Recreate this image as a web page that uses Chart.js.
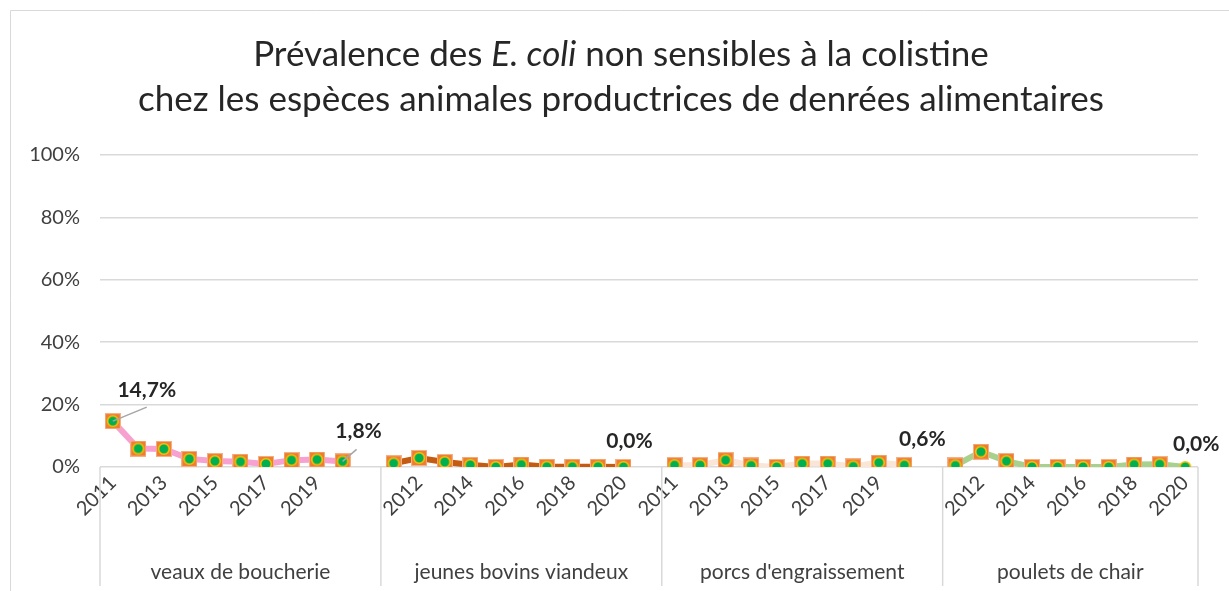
<!DOCTYPE html>
<html>
<head>
<meta charset="utf-8">
<script src="https://cdn.jsdelivr.net/npm/chart.js@4/dist/chart.umd.min.js"></script>
<style>
  html, body { margin: 0; padding: 0; background: #fff; }
  canvas { display: block; }
</style>
</head>
<body>
<canvas id="chart" width="1229" height="591"></canvas>
<script>
// ===== data =====
const years = ["2011", "2012", "2013", "2014", "2015", "2016", "2017", "2018", "2019", "2020"];
const groups = ["veaux de boucherie", "jeunes bovins viandeux", "porcs d'engraissement", "poulets de chair"];

const veaux   = [14.7, 5.9, 5.8, 2.6, 1.9, 1.7, 1.0, 2.2, 2.4, 1.8];
const bovins  = [1.2, 2.9, 1.6, 0.7, 0.0, 0.8, 0.1, 0.1, 0.1, 0.0];
const porcs   = [0.6, 0.6, 2.2, 0.5, 0.0, 1.1, 1.1, 0.2, 1.4, 0.6];
const poulets = [0.5, 4.9, 1.9, 0.0, 0.0, 0.0, 0.0, 0.8, 0.9, 0.0];

const yTicks = [0, 20, 40, 60, 80, 100];

// ===== styles =====
const lineColors = ["#F7A1D0", "#C55A11", "#FBE5D6", "#A9D18E"];
const FONT = "Lato, 'Open Sans', sans-serif";

// which points carry a value label (group index, point index, label offset, leader end)
const valueLabels = [
  { g: 0, i: 0, dx: 34, dy: -31, lead: [34, -14] },
  { g: 0, i: 9, dx: 16, dy: -30, lead: [14, -12] },
  { g: 1, i: 9, dx: 6, dy: -26, lead: null },
  { g: 2, i: 9, dx: 18, dy: -26, lead: null },
  { g: 3, i: 9, dx: 11, dy: -23, lead: null }
];

// ===== build category axis (one empty slot between groups) =====
const series = [veaux, bovins, porcs, poulets];
const labels = [];
const groupStart = [];
series.forEach((s, g) => {
  groupStart.push(labels.length);
  years.forEach(y => labels.push(y));
  if (g < series.length - 1) labels.push("");
});

// ===== markers =====
function makeMarker(withSquare) {
  const c = document.createElement("canvas");
  c.width = 16; c.height = 16;
  const x = c.getContext("2d");
  if (withSquare) {
    x.fillStyle = "#ED7D31";
    x.fillRect(0.5, 0.5, 15, 15);
    x.strokeStyle = "#F4B183";
    x.lineWidth = 1;
    x.strokeRect(0.5, 0.5, 15, 15);
  }
  x.beginPath();
  x.arc(8, 8, 5.3, 0, Math.PI * 2);
  x.fillStyle = "#00B050";
  x.fill();
  x.lineWidth = 1.6;
  x.strokeStyle = "#FFC000";
  x.stroke();
  return c;
}
const markerFull = makeMarker(true);
const markerDot = makeMarker(false);

const datasets = series.map((s, g) => {
  const data = labels.map(() => null);
  s.forEach((v, i) => { data[groupStart[g] + i] = v; });
  const styles = data.map((v, k) =>
    (g === 3 && k === groupStart[g] + s.length - 1) ? markerDot : markerFull);
  return {
    label: groups[g],
    data: data,
    borderColor: lineColors[g],
    borderWidth: 6,
    tension: 0,
    spanGaps: false,
    pointStyle: styles,
    pointRadius: 8,
    pointHoverRadius: 8
  };
});

function fmt(v) {
  return v.toFixed(1).replace(".", ",") + "%";
}

// ===== decorations: border, title, group labels, value labels =====
const decor = {
  id: "decor",
  beforeDraw(chart) {
    const ctx = chart.ctx;
    ctx.save();
    ctx.fillStyle = "#fff";
    ctx.fillRect(0, 0, chart.width, chart.height);
    ctx.strokeStyle = "#D9D9D9";
    ctx.lineWidth = 1;
    ctx.beginPath();
    ctx.moveTo(10.5, chart.height);
    ctx.lineTo(10.5, 10.5);
    ctx.lineTo(chart.width, 10.5);
    ctx.stroke();
    ctx.restore();
  },
  afterDraw(chart) {
    const ctx = chart.ctx;
    const xs = chart.scales.x;
    const ys = chart.scales.y;
    const area = chart.chartArea;
    const step = xs.getPixelForValue(1) - xs.getPixelForValue(0);
    ctx.save();

    // title
    const parts1 = [["Prévalence des ", ""], ["E. coli", "italic "], [" non sensibles à la colistine", ""]];
    const tSize = 35;
    let w = 0;
    parts1.forEach(p => { ctx.font = p[1] + tSize + "px " + FONT; w += ctx.measureText(p[0]).width; });
    const cx = 621;
    let x = cx - w / 2;
    ctx.fillStyle = "#262626";
    ctx.textBaseline = "alphabetic";
    ctx.textAlign = "left";
    parts1.forEach(p => {
      ctx.font = p[1] + tSize + "px " + FONT;
      ctx.fillText(p[0], x, 66);
      x += ctx.measureText(p[0]).width;
    });
    ctx.font = tSize + "px " + FONT;
    ctx.textAlign = "center";
    ctx.fillText("chez les espèces animales productrices de denrées alimentaires", cx, 111);

    // group separators and names
    ctx.strokeStyle = "#D9D9D9";
    ctx.lineWidth = 1.5;
    const bounds = groupStart.map(s => xs.getPixelForValue(s) - step / 2);
    bounds.push(area.right);
    bounds.forEach(b => {
      ctx.beginPath();
      ctx.moveTo(b, area.bottom);
      ctx.lineTo(b, chart.height - 5);
      ctx.stroke();
    });
    ctx.fillStyle = "#404040";
    ctx.font = "21px " + FONT;
    ctx.textAlign = "center";
    ctx.textBaseline = "middle";
    groups.forEach((name, g) => {
      ctx.fillText(name, (bounds[g] + bounds[g + 1]) / 2, 572);
    });

    // value labels
    ctx.font = "bold 21px " + FONT;
    ctx.fillStyle = "#262626";
    valueLabels.forEach(l => {
      const v = series[l.g][l.i];
      const px = xs.getPixelForValue(groupStart[l.g] + l.i);
      const py = ys.getPixelForValue(v);
      if (l.lead) {
        ctx.strokeStyle = "#A6A6A6";
        ctx.lineWidth = 1.5;
        ctx.beginPath();
        ctx.moveTo(px, py);
        ctx.lineTo(px + l.lead[0], py + l.lead[1]);
        ctx.stroke();
      }
      ctx.fillText(fmt(v), px + l.dx, py + l.dy);
    });
    ctx.restore();
  }
};

new Chart(document.getElementById("chart"), {
  type: "line",
  data: { labels: labels, datasets: datasets },
  plugins: [decor],
  options: {
    responsive: false,
    animation: false,
    events: [],
    layout: { padding: { top: 155, right: 31, left: 0, bottom: 0 } },
    plugins: {
      legend: { display: false },
      title: { display: false },
      tooltip: { enabled: false }
    },
    scales: {
      x: {
        type: "category",
        offset: true,
        grid: { display: false, drawTicks: false },
        border: { display: false },
        afterFit: s => { s.height = 124; },
        ticks: {
          autoSkip: false,
          maxRotation: 45,
          minRotation: 45,
          padding: 4,
          color: "#404040",
          font: { family: FONT, size: 20 },
          callback: (v, i) => (i % 2 === 0 ? labels[i] : "")
        }
      },
      y: {
        min: 0,
        max: 100,
        afterFit: s => { s.width = 100; },
        afterBuildTicks: s => { s.ticks = yTicks.map(v => ({ value: v })); },
        grid: { color: "#D9D9D9", lineWidth: 1.5, drawTicks: false },
        border: { display: false },
        ticks: {
          padding: 20,
          color: "#404040",
          font: { family: FONT, size: 20 },
          callback: v => v + "%"
        }
      }
    }
  }
});
</script>
</body>
</html>
